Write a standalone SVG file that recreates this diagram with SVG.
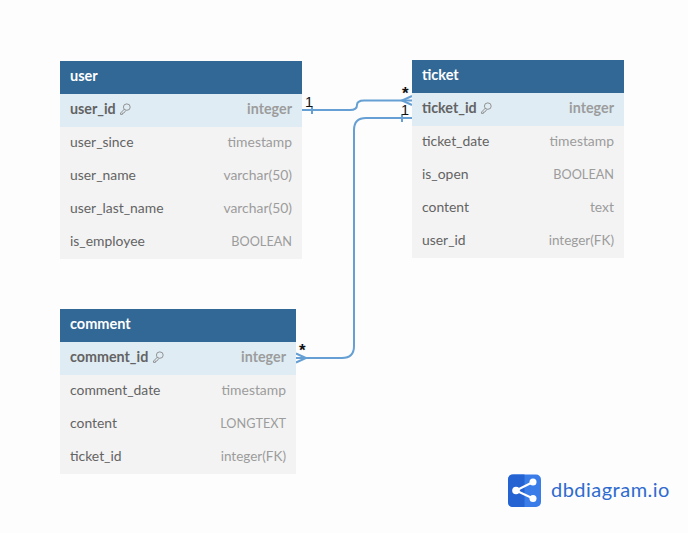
<svg xmlns="http://www.w3.org/2000/svg" width="688" height="533" viewBox="0 0 688 533">
<style>
text{font-family:"Lato","Open Sans","Liberation Sans",sans-serif;font-size:13.9px}
.hd{fill:#316896}.pk{fill:#dfecf4}.bd{fill:#f3f3f3}
.ht{fill:#fff;font-weight:700;font-size:14.500px}
.n{fill:#636363}.t{fill:#9c9c9c;text-anchor:end}
.b{font-weight:700;font-size:14.300px}
.u{font-size:12.700px}.f{font-size:13.500px}
.c{fill:none;stroke:#659fd3;stroke-width:2}
.m{fill:#111;font-family:"Liberation Sans",sans-serif;font-size:14.500px}
.s{fill:#111;font-family:"Liberation Sans",sans-serif;font-size:17px;font-weight:700}
.k{fill:none;stroke:#888;stroke-width:.9}
</style>
<defs>
<g id="key"><ellipse cx="6.800" cy="-6.400" rx="3.400" ry="3.200" class="k"/><path d="M4.400 -4.400L0.500 -0.400V0.900H2.400V-0.400H3.800L5.800 -3" class="k"/></g>
</defs>
<rect width="688" height="533" fill="#fdfdfd"/>
<g id="connectors">
<path class="c" d="M302 110H350Q357 110 357 105Q357 100.500 364 100.500H412"/>
<path class="c" d="M312 106V114"/>
<path class="c" d="M412 96L402 100.500L412 105"/>
<path class="c" d="M296 358H342Q354 358 354 346V130Q354 118 366 118H412"/>
<path class="c" d="M402 114V122"/>
<path class="c" d="M296 353.500L306 358L296 362.500"/>
<text class="m" x="305" y="107">1</text>
<text class="s" x="402" y="99">*</text>
<text class="m" x="401" y="115">1</text>
<text class="s" x="299" y="356">*</text>
</g>
<g id="user">
<rect class="hd" x="60" y="61" width="242" height="33"/>
<rect class="pk" x="60" y="94" width="242" height="33"/>
<rect class="bd" x="60" y="127" width="242" height="132"/>
<text class="ht" x="70" y="81">user</text>
<text class="n b" x="70" y="114">user_id</text><use href="#key" x="120" y="113.500"/>
<text class="t b" x="292" y="114">integer</text>
<text class="n" x="70" y="147">user_since</text><text class="t" x="292" y="147">timestamp</text>
<text class="n" x="70" y="180">user_name</text><text class="t" x="292" y="180">varchar(50)</text>
<text class="n" x="70" y="213">user_last_name</text><text class="t" x="292" y="213">varchar(50)</text>
<text class="n" x="70" y="246">is_employee</text><text class="t u" x="292" y="246">BOOLEAN</text>
</g>
<g id="ticket">
<rect class="hd" x="412" y="60" width="212" height="33"/>
<rect class="pk" x="412" y="93" width="212" height="33"/>
<rect class="bd" x="412" y="126" width="212" height="132"/>
<text class="ht" x="422" y="80">ticket</text>
<text class="n b" x="422" y="113">ticket_id</text><use href="#key" x="481" y="112.500"/>
<text class="t b" x="614" y="113">integer</text>
<text class="n" x="422" y="146">ticket_date</text><text class="t" x="614" y="146">timestamp</text>
<text class="n" x="422" y="179">is_open</text><text class="t u" x="614" y="179">BOOLEAN</text>
<text class="n" x="422" y="212">content</text><text class="t" x="614" y="212">text</text>
<text class="n" x="422" y="245">user_id</text><text class="t f" x="614" y="245">integer(FK)</text>
</g>
<g id="comment">
<rect class="hd" x="60" y="309" width="236" height="33"/>
<rect class="pk" x="60" y="342" width="236" height="33"/>
<rect class="bd" x="60" y="375" width="236" height="99"/>
<text class="ht" x="70" y="329">comment</text>
<text class="n b" x="70" y="362">comment_id</text><use href="#key" x="153" y="361.500"/>
<text class="t b" x="286" y="362">integer</text>
<text class="n" x="70" y="395">comment_date</text><text class="t" x="286" y="395">timestamp</text>
<text class="n" x="70" y="428">content</text><text class="t u" x="286" y="428">LONGTEXT</text>
<text class="n" x="70" y="461">ticket_id</text><text class="t f" x="286" y="461">integer(FK)</text>
</g>
<g id="logo">
<rect x="508" y="474.500" width="33" height="32.500" rx="5" fill="#3b7de8"/>
<path d="M513 474.500H524.500V507H513Q508 507 508 502V479.500Q508 474.500 513 474.500Z" fill="#2562d2"/>
<path d="M516 490.500L533 482M516 490.500L533 498.500" stroke="#fff" stroke-width="2" fill="none"/>
<circle cx="516" cy="490.500" r="3.800" fill="#fff"/><circle cx="533" cy="482" r="3.500" fill="#fff"/><circle cx="533" cy="498.500" r="3.500" fill="#fff"/>
<text x="551" y="497" style="font-size:20px;fill:#2f6bce;letter-spacing:.48px">dbdiagram.io</text>
</g>
</svg>
